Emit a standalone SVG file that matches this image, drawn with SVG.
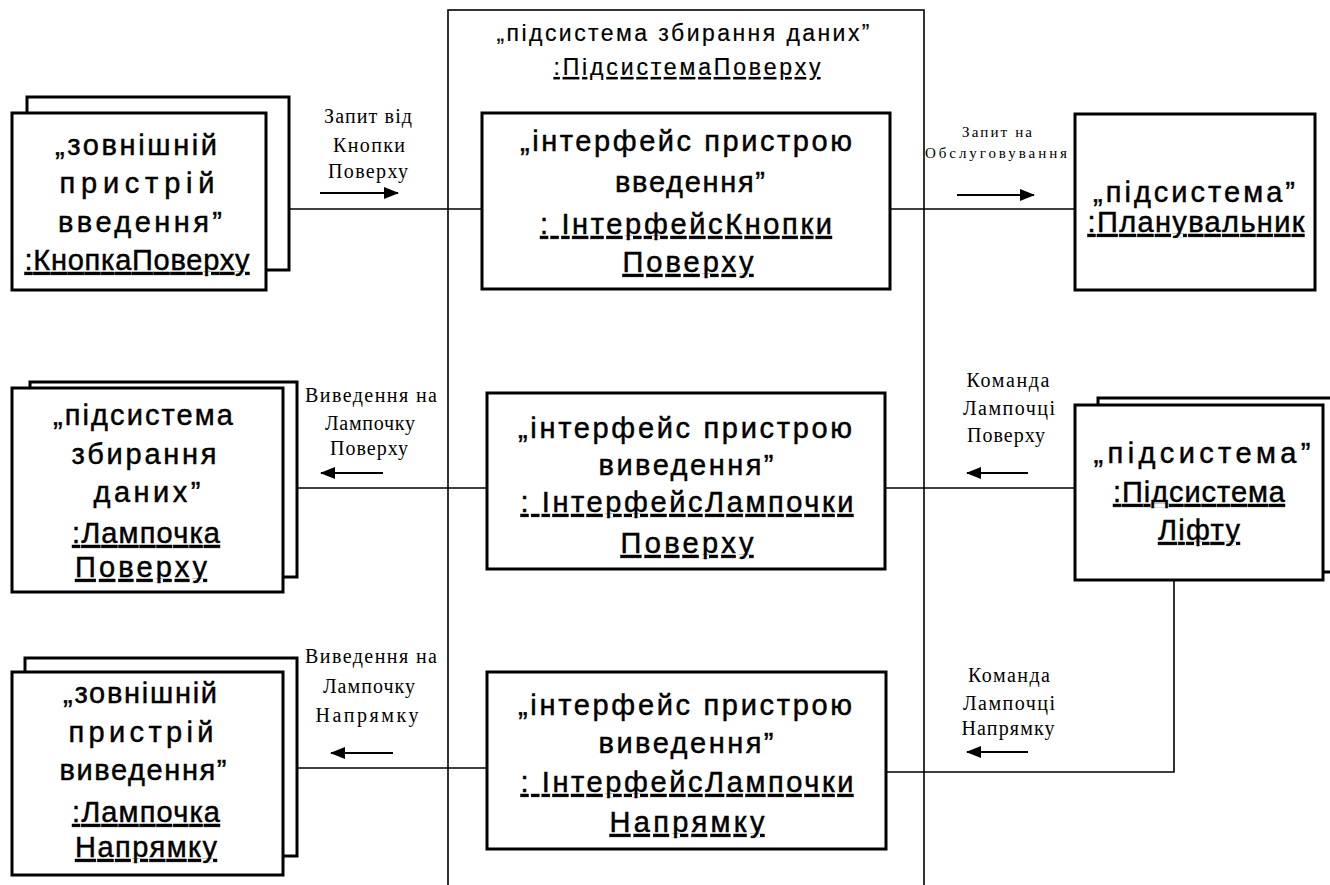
<svg xmlns="http://www.w3.org/2000/svg" width="1330" height="885" viewBox="0 0 1330 885">
  <style>
    .box { fill: #fff; stroke: #000; stroke-width: 3; }
    .frame { fill: none; stroke: #000; stroke-width: 1.6; }
    .wire { fill: none; stroke: #000; stroke-width: 1.6; }
    .dir { fill: none; stroke: #000; stroke-width: 2; marker-end: url(#head); }
    .nm { font-family: "Liberation Sans", Arial, sans-serif; font-size: 29px; fill: #000; stroke: #000; stroke-width: 0.45; text-anchor: middle; }
    .ttl { font-family: "Liberation Sans", Arial, sans-serif; font-size: 23px; fill: #000; stroke: #000; stroke-width: 0.2; text-anchor: middle; }
    .msg { font-family: "Liberation Serif", "Times New Roman", serif; font-size: 20px; fill: #000; text-anchor: middle; }
    .msgs { font-family: "Liberation Serif", "Times New Roman", serif; font-size: 15px; fill: #000; text-anchor: middle; }
    .u { text-decoration: underline; }
  </style>
  <defs>
    <marker id="head" markerUnits="userSpaceOnUse" markerWidth="16" markerHeight="12" refX="14" refY="6" orient="auto">
      <path d="M0,0 L15,6 L0,12 Z" fill="#000"/>
    </marker>
  </defs>

  <rect width="1330" height="885" fill="#fff"/>

  <!-- enclosing subsystem frame -->
  <g id="floor-subsystem">
    <rect class="frame" x="448" y="10" width="476" height="900"/>
    <text class="ttl" x="683" y="41" textLength="373" lengthAdjust="spacing">„підсистема збирання даних”</text>
    <text class="ttl u" x="687" y="75" textLength="267" lengthAdjust="spacing">:ПідсистемаПоверху</text>
  </g>

  <!-- links between objects -->
  <g id="connectors">
    <path class="wire" d="M289,209 H482"/>
    <path class="wire" d="M890,209 H1075"/>
    <path class="wire" d="M297,488 H487"/>
    <path class="wire" d="M885,488 H1075"/>
    <path class="wire" d="M297,768 H487"/>
    <path class="wire" d="M886,772 H1174 V580"/>

    <!-- message arrows -->
    <path class="dir" d="M320,193 H398"/>
    <path class="dir" d="M957,195 H1034"/>
    <path class="dir" d="M383,473 H321"/>
    <path class="dir" d="M1028,473 H967"/>
    <path class="dir" d="M393,753 H331"/>
    <path class="dir" d="M1028,752 H967"/>

    <!-- message labels -->
    <text class="msg" x="368" y="123" textLength="88" lengthAdjust="spacing">Запит від</text>
    <text class="msg" x="369" y="152" textLength="72" lengthAdjust="spacing">Кнопки</text>
    <text class="msg" x="368" y="178" textLength="80" lengthAdjust="spacing">Поверху</text>

    <text class="msgs" x="997" y="137" textLength="70" lengthAdjust="spacing">Запит на</text>
    <text class="msgs" x="996" y="158" textLength="142" lengthAdjust="spacing">Обслуговування</text>

    <text class="msg" x="371" y="402" textLength="132" lengthAdjust="spacing">Виведення на</text>
    <text class="msg" x="370" y="430" textLength="90" lengthAdjust="spacing">Лампочку</text>
    <text class="msg" x="369" y="455" textLength="78" lengthAdjust="spacing">Поверху</text>

    <text class="msg" x="1008" y="387" textLength="83" lengthAdjust="spacing">Команда</text>
    <text class="msg" x="1009" y="415" textLength="92" lengthAdjust="spacing">Лампочці</text>
    <text class="msg" x="1006" y="442" textLength="78" lengthAdjust="spacing">Поверху</text>

    <text class="msg" x="371" y="663" textLength="132" lengthAdjust="spacing">Виведення на</text>
    <text class="msg" x="369" y="693" textLength="92" lengthAdjust="spacing">Лампочку</text>
    <text class="msg" x="367" y="722" textLength="103" lengthAdjust="spacing">Напрямку</text>

    <text class="msg" x="1009" y="682" textLength="82" lengthAdjust="spacing">Команда</text>
    <text class="msg" x="1009" y="710" textLength="92" lengthAdjust="spacing">Лампочці</text>
    <text class="msg" x="1008" y="735" textLength="93" lengthAdjust="spacing">Напрямку</text>
  </g>

  <!-- floor button (multi-object) -->
  <g id="floor-button">
    <rect class="box" x="27" y="97" width="262" height="173"/>
    <rect class="box" x="12" y="113" width="254" height="177"/>
    <text class="nm" x="136" y="155" textLength="162" lengthAdjust="spacing">„зовнішній</text>
    <text class="nm" x="137" y="193" textLength="155" lengthAdjust="spacing">пристрій</text>
    <text class="nm" x="140" y="232" textLength="164" lengthAdjust="spacing">введення”</text>
    <text class="nm u" x="137" y="270" textLength="225" lengthAdjust="spacing">:КнопкаПоверху</text>
  </g>

  <!-- floor lamp (multi-object) -->
  <g id="floor-lamp">
    <rect class="box" x="30" y="382" width="267" height="195"/>
    <rect class="box" x="12" y="388" width="271" height="204"/>
    <text class="nm" x="143" y="425" textLength="180" lengthAdjust="spacing">„підсистема</text>
    <text class="nm" x="144" y="464" textLength="145" lengthAdjust="spacing">збирання</text>
    <text class="nm" x="147" y="502" textLength="107" lengthAdjust="spacing">даних”</text>
    <text class="nm u" x="146" y="543" textLength="148" lengthAdjust="spacing">:Лампочка</text>
    <text class="nm u" x="141" y="577" textLength="132" lengthAdjust="spacing">Поверху</text>
  </g>

  <!-- direction lamp (multi-object) -->
  <g id="direction-lamp">
    <rect class="box" x="25" y="658" width="272" height="198"/>
    <rect class="box" x="12" y="672" width="271" height="203"/>
    <text class="nm" x="140" y="703" textLength="154" lengthAdjust="spacing">„зовнішній</text>
    <text class="nm" x="141" y="742" textLength="145" lengthAdjust="spacing">пристрій</text>
    <text class="nm" x="143" y="780" textLength="167" lengthAdjust="spacing">виведення”</text>
    <text class="nm u" x="146" y="822" textLength="148" lengthAdjust="spacing">:Лампочка</text>
    <text class="nm u" x="146" y="857" textLength="142" lengthAdjust="spacing">Напрямку</text>
  </g>

  <!-- input interface -->
  <g id="button-interface">
    <rect class="box" x="482" y="113" width="408" height="176"/>
    <text class="nm" x="686" y="151" textLength="332" lengthAdjust="spacing">„інтерфейс пристрою</text>
    <text class="nm" x="690" y="192" textLength="150" lengthAdjust="spacing">введення”</text>
    <text class="nm u" x="686" y="234" textLength="292" lengthAdjust="spacing">: ІнтерфейсКнопки</text>
    <text class="nm u" x="688" y="272" textLength="131" lengthAdjust="spacing">Поверху</text>
  </g>

  <!-- floor lamp output interface -->
  <g id="floor-lamp-interface">
    <rect class="box" x="487" y="393" width="398" height="176"/>
    <text class="nm" x="685" y="438" textLength="334" lengthAdjust="spacing">„інтерфейс пристрою</text>
    <text class="nm" x="686" y="475" textLength="175" lengthAdjust="spacing">виведення”</text>
    <text class="nm u" x="687" y="512" textLength="333" lengthAdjust="spacing">: ІнтерфейсЛампочки</text>
    <text class="nm u" x="687" y="553" textLength="133" lengthAdjust="spacing">Поверху</text>
  </g>

  <!-- direction lamp output interface -->
  <g id="direction-lamp-interface">
    <rect class="box" x="487" y="672" width="399" height="177"/>
    <text class="nm" x="685" y="715" textLength="334" lengthAdjust="spacing">„інтерфейс пристрою</text>
    <text class="nm" x="686" y="753" textLength="175" lengthAdjust="spacing">виведення”</text>
    <text class="nm u" x="687" y="792" textLength="333" lengthAdjust="spacing">: ІнтерфейсЛампочки</text>
    <text class="nm u" x="687" y="832" textLength="155" lengthAdjust="spacing">Напрямку</text>
  </g>

  <!-- scheduler -->
  <g id="scheduler">
    <rect class="box" x="1075" y="114" width="240" height="176"/>
    <text class="nm" x="1194" y="202" textLength="202" lengthAdjust="spacing">„підсистема”</text>
    <text class="nm u" x="1196" y="232" textLength="217" lengthAdjust="spacing">:Планувальник</text>
  </g>

  <!-- elevator subsystem (multi-object) -->
  <g id="elevator-subsystem">
    <rect class="box" x="1098" y="398" width="245" height="174"/>
    <rect class="box" x="1075" y="405" width="248" height="175"/>
    <text class="nm" x="1202" y="463" textLength="217" lengthAdjust="spacing">„підсистема”</text>
    <text class="nm u" x="1199" y="502" textLength="172" lengthAdjust="spacing">:Підсистема</text>
    <text class="nm u" x="1199" y="540" textLength="82" lengthAdjust="spacing">Ліфту</text>
  </g>
</svg>
